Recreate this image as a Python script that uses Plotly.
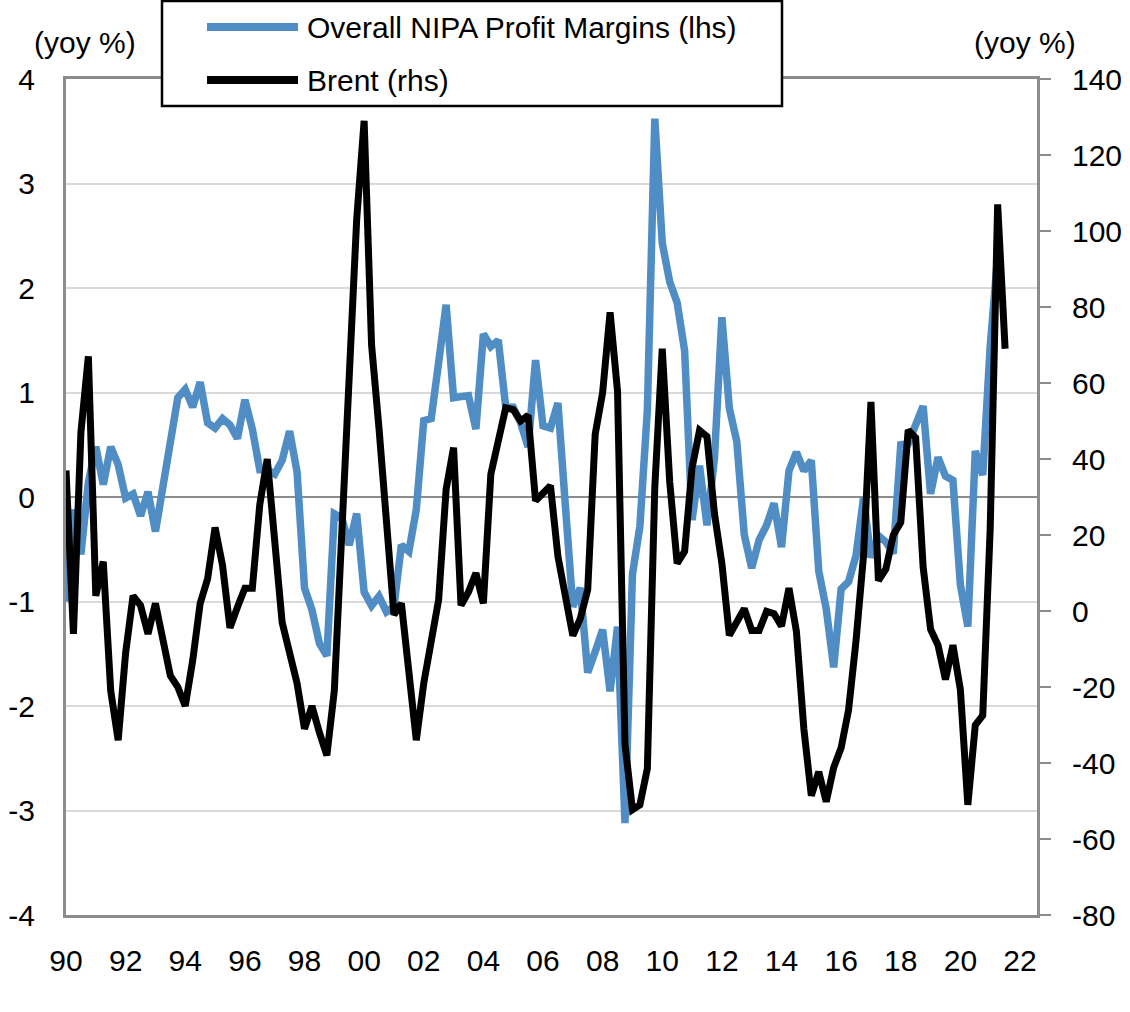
import plotly.graph_objects as go

# Quarterly data, 1990Q1 onwards
start_year = 1990

nipa_margins = [
    -1.0, -0.12, -0.55, 0.14, 0.48, 0.12, 0.48, 0.31, -0.01, 0.03,
    -0.18, 0.05, -0.33, 0.09, 0.56, 0.95, 1.03, 0.86, 1.1, 0.71,
    0.66, 0.75, 0.69, 0.56, 0.93, 0.65, 0.26, 0.26, 0.22, 0.35,
    0.63, 0.24, -0.87, -1.08, -1.4, -1.52, -0.16, -0.2, -0.46, -0.16,
    -0.91, -1.04, -0.95, -1.1, -1.05, -0.46, -0.52, -0.12, 0.73, 0.75,
    1.29, 1.84, 0.95, 0.96, 0.97, 0.65, 1.56, 1.44, 1.5, 0.86,
    0.86, 0.71, 0.48, 1.31, 0.68, 0.66, 0.9, -0.08, -1.05, -0.87,
    -1.68, -1.48, -1.27, -1.86, -1.24, -3.12, -0.74, -0.28, 0.83, 3.62,
    2.43, 2.06, 1.86, 1.4, -0.22, 0.3, -0.27, 0.37, 1.72, 0.85,
    0.53, -0.36, -0.68, -0.41, -0.27, -0.06, -0.48, 0.25, 0.43, 0.25,
    0.35, -0.71, -1.07, -1.63, -0.88, -0.81, -0.56, -0.01, -0.58, -0.37,
    -0.43, -0.54, 0.5, 0.51, 0.7, 0.87, 0.03, 0.38, 0.2, 0.16,
    -0.84, -1.24, 0.44, 0.21, 1.44, 2.3,
]

brent = [
    37, -6, 47, 67, 4, 13, -21, -34, -11, 4,
    1.5, -6, 2, -7, -17, -20, -25, -13, 2, 8.5,
    22, 12, -4.4, 1, 6, 6, 28, 40, 20, -3,
    -11, -19, -31, -25, -32, -38, -21, 20, 61, 103,
    129, 70, 48, 21, -1, 2, -15, -34, -19, -7,
    3, 32, 43, 1.5, 5, 10, 2, 36, 45.5, 53.5,
    53, 50, 51.5, 29, 31, 33, 14.4, 3.7, -6.5, -2,
    5.6, 46.5, 57.5, 78.6, 57.8, -35, -52.3, -51, -41.5, 32.6,
    69, 34, 12.5, 15.7, 37.7, 47.5, 45.9, 25.7, 12.5, -6.4,
    -2.6, 0.6, -5.1, -5.1, -0.1, -0.7, -4, 6, -5.4, -31,
    -48.6, -42.3, -50.2, -41.2, -36, -26, -7.8, 14.5, 55, 8,
    11, 20, 23.3, 47.6, 45.6, 11.6, -4.8, -9, -18, -9,
    -20.7, -51, -30, -27.5, 21.6, 107, 69,
]

x_tick_years = list(range(1990, 2023, 2))
x_tick_labels = ["90", "92", "94", "96", "98", "00", "02", "04", "06", "08",
                 "10", "12", "14", "16", "18", "20", "22"]
left_ticks = [-4, -3, -2, -1, 0, 1, 2, 3, 4]
left_labels = ["-4", "-3", "-2", "-1", "0", "1", "2", "3", "4"]
right_ticks = [-80, -60, -40, -20, 0, 20, 40, 60, 80, 100, 120, 140]
right_labels = ["-80", "-60", "-40", "-20", "0", "20", "40", "60", "80", "100", "120", "140"]

series_names = ["Overall NIPA Profit Margins (lhs)", "Brent (rhs)"]
axis_unit = "(yoy %)"

x_nipa = [start_year + 0.25 * i for i in range(len(nipa_margins))]
x_brent = [start_year + 0.25 * i for i in range(len(brent))]

BLUE = "#4F8DC4"
BLACK = "#000000"
GRAY = "#8C8C8C"
GRID = "#D9D9D9"
FONT = "Arial, Liberation Sans, sans-serif"

fig = go.Figure()
fig.add_trace(go.Scatter(x=x_nipa, y=nipa_margins, mode="lines", name=series_names[0],
                         line=dict(color=BLUE, width=7.5), yaxis="y"))
fig.add_trace(go.Scatter(x=x_brent, y=brent, mode="lines", name=series_names[1],
                         line=dict(color=BLACK, width=7), yaxis="y2"))

W, H = 1130, 1012
L, R, T, B = 66, 93, 79, 97
pw, ph = W - L - R, H - T - B


def px(xp):
    return (xp - L) / pw


def py(yp):
    return (H - B - yp) / ph


fig.update_layout(
    width=W, height=H,
    margin=dict(l=L, r=R, t=T, b=B, autoexpand=False),
    paper_bgcolor="white", plot_bgcolor="white",
    showlegend=False,
    font=dict(family=FONT, size=30, color="black"),
    xaxis=dict(range=[1990, 2022.57], tickvals=x_tick_years, ticktext=x_tick_labels,
               showgrid=False, zeroline=False, showline=True, linecolor=GRAY, linewidth=3,
               mirror=True, ticks="", ticklabelstandoff=17, automargin=False,
               tickfont=dict(size=30, family=FONT, color="black")),
    yaxis=dict(range=[-4, 4], tickvals=left_ticks, ticktext=left_labels,
               showgrid=True, gridcolor=GRID, gridwidth=2,
               zeroline=True, zerolinecolor=GRAY, zerolinewidth=2,
               showline=True, linecolor=GRAY, linewidth=3, mirror=True,
               ticks="", ticklabelstandoff=22, automargin=False,
               tickfont=dict(size=30, family=FONT, color="black")),
    yaxis2=dict(range=[-80, 140], tickvals=right_ticks, ticktext=right_labels,
                overlaying="y", side="right", showgrid=False, zeroline=False,
                showline=True, linecolor=GRAY, linewidth=3,
                ticks="outside", ticklen=11, tickwidth=2, tickcolor=GRAY,
                ticklabelstandoff=15, automargin=False,
                tickfont=dict(size=30, family=FONT, color="black")),
)

# Legend box (drawn manually to match the reference layout)
shapes = [
    dict(type="rect", xref="paper", yref="paper", x0=px(162), x1=px(782), y0=py(106), y1=py(1),
         line=dict(color="black", width=2.5), fillcolor="white", layer="above"),
    dict(type="line", xref="paper", yref="paper", x0=px(207), x1=px(298), y0=py(27), y1=py(27),
         line=dict(color=BLUE, width=8), layer="above"),
    dict(type="line", xref="paper", yref="paper", x0=px(207), x1=px(298), y0=py(80), y1=py(80),
         line=dict(color=BLACK, width=8), layer="above"),
]
annotations = [
    dict(text=series_names[0], xref="paper", yref="paper", x=px(305), y=py(27),
         xanchor="left", yanchor="middle", showarrow=False, font=dict(size=30, family=FONT, color="black")),
    dict(text=series_names[1], xref="paper", yref="paper", x=px(305), y=py(80),
         xanchor="left", yanchor="middle", showarrow=False, font=dict(size=30, family=FONT, color="black")),
    dict(text=axis_unit, xref="paper", yref="paper", x=px(85), y=py(42),
         xanchor="center", yanchor="middle", showarrow=False, font=dict(size=30, family=FONT, color="black")),
    dict(text=axis_unit, xref="paper", yref="paper", x=px(1025), y=py(42),
         xanchor="center", yanchor="middle", showarrow=False, font=dict(size=30, family=FONT, color="black")),
]
fig.update_layout(shapes=shapes, annotations=annotations)

fig.write_html("out.html",
               config={"displayModeBar": False},
               post_script="document.body.style.margin='0px';document.body.style.overflow='hidden';")
